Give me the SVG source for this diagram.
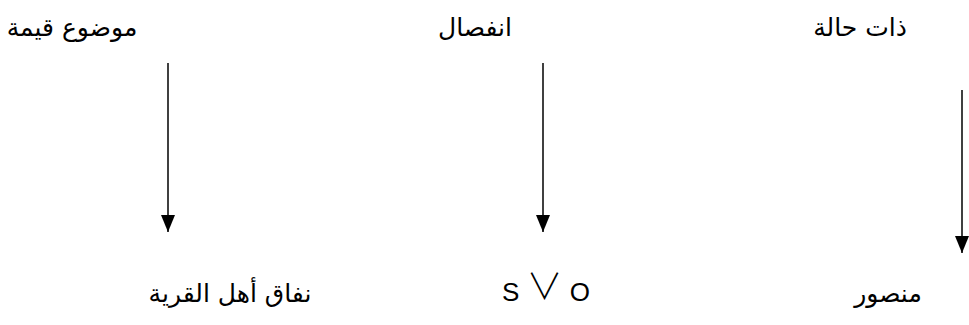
<svg xmlns="http://www.w3.org/2000/svg" width="969" height="325" viewBox="0 0 969 325">
<style>
.t{font-family:"DejaVu Sans",sans-serif;font-size:25px;fill:#000;text-anchor:middle}
.l{font-family:"Liberation Sans",sans-serif;font-size:26px;fill:#000;text-anchor:middle}
.c{stroke:#000;stroke-width:1.5;fill:none;marker-end:url(#ah)}
</style>
<defs>
<marker id="ah" markerUnits="userSpaceOnUse" markerWidth="17" markerHeight="14" refX="17" refY="7" orient="auto" viewBox="0 0 17 14">
<path d="M0,0 L17,7 L0,14 Z" fill="#000"/>
</marker>
</defs>
<rect width="969" height="325" fill="#fff"/>
<g id="n1"><text class="t" x="72" y="36" direction="rtl">موضوع قيمة</text></g>
<g id="n2"><text class="t" x="475" y="36" direction="rtl">انفصال</text></g>
<g id="n3"><text class="t" x="860" y="36" direction="rtl">ذات حالة</text></g>
<g id="n4"><text class="t" x="230" y="302" direction="rtl">نفاق أهل القرية</text></g>
<g id="n5"><text class="l" x="546" y="301">S <tspan font-family="'Noto Sans CJK SC',sans-serif" font-size="36" font-weight="300" dy="-1">∨</tspan><tspan dy="1"> O</tspan></text></g>
<g id="n6"><text class="t" x="888" y="302" direction="rtl">منصور</text></g>
<g id="connectors">
<line class="c" x1="168" y1="63" x2="168" y2="232"/>
<line class="c" x1="543" y1="63" x2="543" y2="232"/>
<line class="c" x1="962" y1="90" x2="962" y2="253"/>
</g>
</svg>
